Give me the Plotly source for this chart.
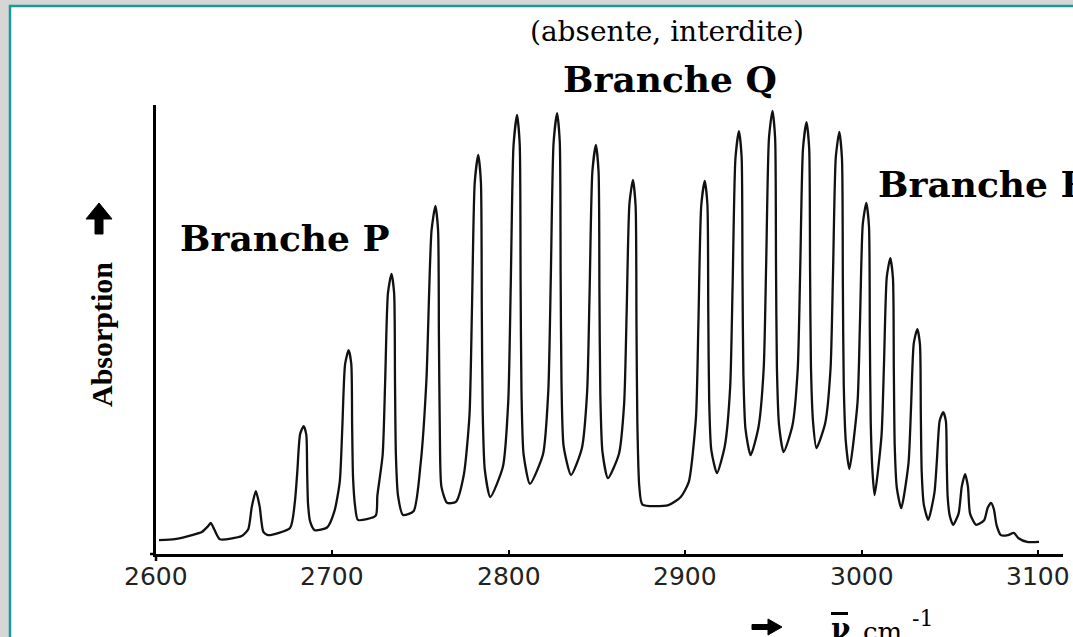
import plotly.graph_objects as go

# ---- data (HCl IR rotation-vibration spectrum) ----
wavenumber = [
    2601.7, 2610.7, 2620.4, 2626.0, 2629.5, 2631.1, 2633.0, 2636.2, 2648.6,
    2652.3, 2654.3, 2656.6, 2658.8, 2660.8, 2663.5, 2676.0,
    2678.7, 2680.1, 2681.7, 2683.7, 2685.2, 2685.7, 2686.2, 2687.4, 2690.0, 2697.0, 2701.2,
    2704.2, 2705.6, 2707.2, 2709.2, 2710.7, 2711.2, 2711.7, 2712.9, 2714.5, 2724.5, 2725.5,
    2728.5, 2729.9, 2731.5, 2733.5, 2735.0, 2735.5, 2736.0, 2737.2, 2740.0, 2746.0,
    2750.0, 2753.3, 2756.2, 2758.4, 2759.9, 2760.4, 2760.9, 2761.8, 2765.0, 2770.0, 2774.5,
    2777.7, 2779.1, 2780.7, 2782.7, 2784.2, 2784.7, 2785.2, 2786.4, 2789.5, 2796.7,
    2799.7, 2801.1, 2802.7, 2804.7, 2806.2, 2806.7, 2807.2, 2808.4, 2812.0, 2819.4,
    2822.4, 2823.8, 2825.4, 2827.4, 2828.9, 2829.4, 2829.9, 2831.1, 2835.3, 2841.4,
    2844.4, 2845.8, 2847.4, 2849.4, 2850.9, 2851.4, 2851.9, 2853.1, 2856.2, 2862.4,
    2865.4, 2866.8, 2868.4, 2870.4, 2871.9, 2872.4, 2872.9, 2874.0, 2875.8, 2890.5, 2897.5, 2902.0,
    2906.1, 2907.5, 2909.1, 2911.1, 2912.6, 2913.1, 2913.6, 2914.8, 2918.0, 2922.5,
    2925.5, 2926.9, 2928.5, 2930.5, 2932.0, 2932.5, 2933.0, 2934.2, 2937.1, 2941.5,
    2944.5, 2945.9, 2947.5, 2949.5, 2951.0, 2951.5, 2952.0, 2953.2, 2955.8, 2960.8,
    2963.8, 2965.2, 2966.8, 2968.8, 2970.3, 2970.8, 2971.3, 2972.5, 2974.4, 2979.4,
    2982.4, 2983.8, 2985.4, 2987.4, 2988.9, 2989.4, 2989.9, 2991.1, 2993.1,
    2997.7, 2999.1, 3000.7, 3002.7, 3004.2, 3004.7, 3005.2, 3006.2, 3007.4,
    3011.3, 3012.7, 3014.3, 3016.3, 3017.8, 3018.3, 3018.8, 3020.0, 3022.5,
    3026.6, 3028.0, 3029.6, 3031.6, 3033.1, 3033.6, 3034.1, 3035.3, 3037.8,
    3041.3, 3042.7, 3044.3, 3046.3, 3047.8, 3048.3, 3048.8, 3050.0, 3051.9,
    3055.0, 3056.8, 3058.7, 3060.3, 3061.5, 3064.9,
    3069.5, 3071.5, 3073.4, 3075.0, 3076.5, 3079.0, 3083.0,
    3086.4, 3089.0, 3093.8, 3100.6,
]
absorption = [
    3.1, 3.3, 4.2, 4.9, 6.2, 6.9, 5.5, 3.3, 4.0,
    5.5, 10.5, 14.0, 10.5, 5.0, 4.2, 5.8,
    11.5, 18.3, 26.7, 28.5, 26.6, 18.1, 11.1, 7.2, 5.3, 5.9, 9.6,
    16.2, 27.9, 42.3, 45.4, 42.4, 28.4, 17.1, 10.6, 7.6, 8.5, 13.0,
    22.1, 38.2, 58.1, 62.4, 58.1, 38.2, 22.1, 13.0, 8.7, 9.5,
    20.0, 38.7, 72.0, 77.5, 72.2, 47.8, 27.9, 15.0, 11.4, 11.6, 17.6,
    30.8, 54.0, 82.7, 88.9, 82.8, 54.6, 31.8, 18.8, 12.7, 19.5,
    34.0, 59.5, 91.0, 97.8, 91.2, 60.8, 36.2, 22.2, 15.6, 22.2,
    36.3, 61.0, 91.6, 98.2, 91.8, 61.9, 37.8, 24.0, 17.6, 23.5,
    36.0, 58.0, 85.2, 91.1, 85.2, 57.7, 35.5, 22.8, 16.9, 22.2,
    33.5, 53.4, 78.0, 83.3, 77.5, 50.7, 29.0, 15.0, 11.0, 10.9, 12.7, 16.0,
    30.3, 51.4, 77.5, 83.1, 77.9, 53.8, 34.3, 23.2, 18.0, 24.1,
    37.1, 59.9, 88.1, 94.2, 88.4, 61.7, 40.1, 27.8, 22.0, 28.1,
    41.2, 64.2, 92.6, 98.7, 92.6, 64.5, 41.7, 28.8, 22.7, 28.6,
    41.1, 63.1, 90.3, 96.2, 90.4, 63.5, 41.8, 29.4, 23.6, 29.2,
    41.2, 62.3, 88.4, 94.0, 88.0, 60.2, 37.7, 24.9, 18.9,
    33.7, 51.5, 73.5, 78.2, 73.0, 48.9, 29.4, 18.3, 13.1,
    26.3, 42.1, 61.7, 65.9, 61.4, 40.8, 24.1, 14.7, 10.2,
    20.2, 32.1, 46.9, 50.1, 46.7, 31.0, 18.2, 11.0, 7.6,
    13.6, 20.8, 29.7, 31.6, 29.6, 20.3, 12.8, 8.5, 6.5,
    9.0, 15.0, 17.8, 15.0, 9.0, 6.5,
    7.5, 10.3, 11.4, 10.0, 6.5, 4.2, 4.2,
    4.7, 3.5, 2.7, 2.7,
]
tick_values = [2600, 2700, 2800, 2900, 3000, 3100]
tick_labels = ["2600", "2700", "2800", "2900", "3000", "3100"]

# ---- layout geometry (pixels) ----
FW, FH = 1073, 637
ML, MR, MT, MB = 156, 10, 105, 83
PW, PH = FW - ML - MR, FH - MT - MB


def xp(px):
    return (px - ML) / PW


def yp(py):
    return (FH - MB - py) / PH


def path(points):
    return "M " + " L ".join(f"{xp(a):.5f},{yp(b):.5f}" for a, b in points) + " Z"


fig = go.Figure(
    go.Scatter(
        x=wavenumber, y=absorption, mode="lines",
        line=dict(color="#111111", width=2.3, shape="spline", smoothing=0.6),
        hoverinfo="skip", showlegend=False,
    )
)

teal = "#179a98"
shapes = [
    dict(type="rect", xref="paper", yref="paper", layer="below",
         x0=xp(10), x1=xp(1090), y0=yp(6), y1=yp(660),
         fillcolor="white", line=dict(color=teal, width=2.5)),
    # small axis overhangs at the origin
    dict(type="line", xref="paper", yref="paper",
         x0=xp(150), x1=xp(156), y0=yp(554), y1=yp(554),
         line=dict(color="black", width=2.5)),
    dict(type="line", xref="paper", yref="paper",
         x0=xp(156), x1=xp(156), y0=yp(554), y1=yp(561),
         line=dict(color="black", width=2.5)),
    # y-axis arrow (upward)
    dict(type="path", xref="paper", yref="paper",
         path=path([(99, 203), (112, 219), (103, 219), (103, 234), (95, 234), (95, 219), (86, 219)]),
         fillcolor="black", line=dict(color="black", width=1)),
    # x-title arrow (rightward)
    dict(type="path", xref="paper", yref="paper",
         path=path([(782, 627), (768, 619), (768, 624.5), (752, 624.5), (752, 629.5), (768, 629.5), (768, 635)]),
         fillcolor="black", line=dict(color="black", width=1)),
    # overbar of nu
    dict(type="line", xref="paper", yref="paper",
         x0=xp(831), x1=xp(848), y0=yp(613.5), y1=yp(613.5),
         line=dict(color="black", width=3)),
]

serif = "DejaVu Serif"
ann = []


def text(t, px, py, size, family=serif, xanchor="center", angle=0, bold=False):
    ann.append(dict(
        text=(f"<b>{t}</b>" if bold else t), xref="paper", yref="paper",
        x=xp(px), y=yp(py), xanchor=xanchor, yanchor="middle",
        showarrow=False, textangle=angle,
        font=dict(family=family, size=size, color="black"),
    ))


text("(absente, interdite)", 667, 31, 28)
text("Branche Q", 670, 79, 36, bold=True)
text("Branche P", 285, 238, 36, bold=True)
text("Branche R", 876, 184, 36, xanchor="left", bold=True)
text("Absorption", 101, 335, 30, family="Liberation Serif", angle=-90, bold=True)
text("ν", 840, 628, 28, bold=True)
text("cm", 882, 632, 26)
text("-1", 922, 618, 22)

# x tick labels placed at the tick values
for v, lab in zip(tick_values, tick_labels):
    ann.append(dict(
        text=lab, xref="x", yref="paper", x=v, y=yp(576),
        xanchor="center", yanchor="middle", showarrow=False,
        font=dict(family="DejaVu Sans", size=25, color="#222222"),
    ))

fig.update_layout(
    width=FW, height=FH,
    margin=dict(l=ML, r=MR, t=MT, b=MB, pad=0),
    paper_bgcolor="#d6d6d6",
    plot_bgcolor="rgba(0,0,0,0)",
    shapes=shapes, annotations=ann,
    xaxis=dict(
        range=[2600, 3114.2], tickmode="array", tickvals=tick_values, ticktext=tick_labels,
        ticks="inside", ticklen=4, tickwidth=2, tickcolor="black",
        showline=True, linecolor="black", linewidth=2.5,
        showgrid=False, zeroline=False, showticklabels=False,
    ),
    yaxis=dict(
        range=[0, 100], showline=True, linecolor="black", linewidth=2.5,
        showticklabels=False, ticks="", showgrid=False, zeroline=False,
    ),
)

fig.write_html("out.html")
